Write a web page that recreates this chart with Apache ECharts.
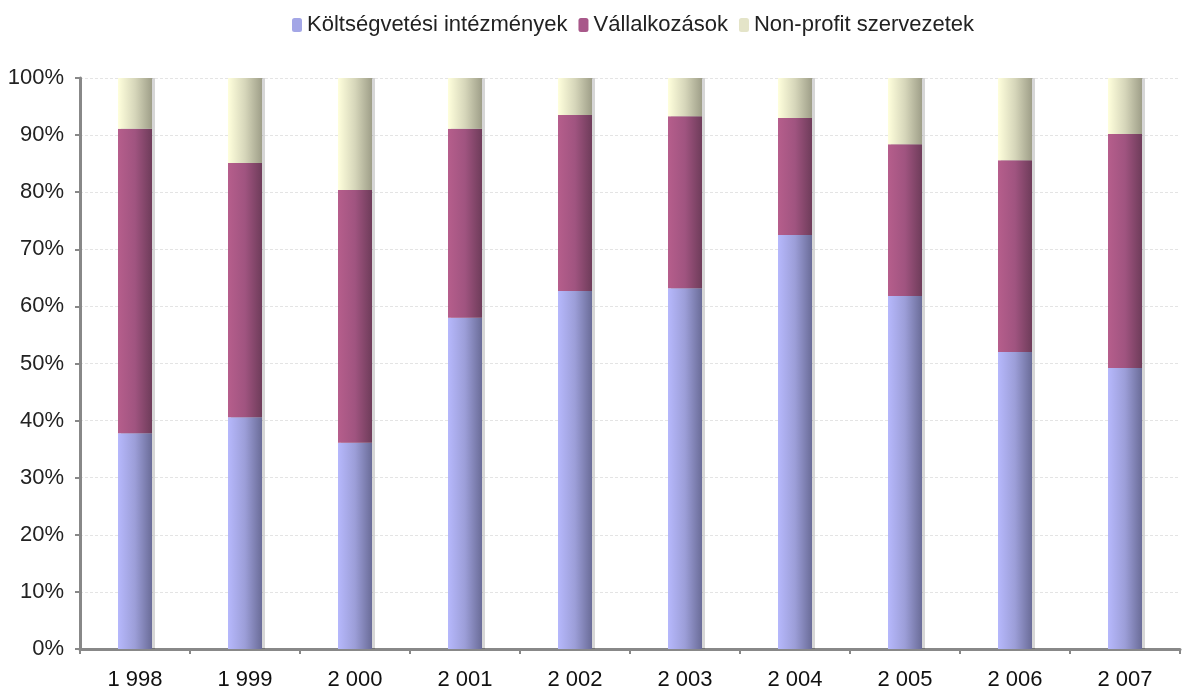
<!DOCTYPE html>
<html>
<head>
<meta charset="utf-8">
<script src="https://cdn.jsdelivr.net/npm/echarts@6/dist/echarts.min.js"></script>
<style>html,body{margin:0;padding:0;background:#fff;}#c{width:1195px;height:692px;}</style>
</head>
<body>
<div id="c"></div>
<script>
var categories = ['1 998','1 999','2 000','2 001','2 002','2 003','2 004','2 005','2 006','2 007'];
var koltsegvetesi = [37.8, 40.6, 36.1, 58.0, 62.7, 63.2, 72.5, 61.8, 52.0, 49.2];
var vallalkozasok = [53.3, 44.5, 44.3, 33.1, 30.8, 30.1, 20.5, 26.6, 33.6, 41.0];
var nonprofit = [8.9, 14.9, 19.6, 8.9, 6.5, 6.7, 7.0, 11.6, 14.4, 9.8];
var seriesNames = ['Költségvetési intézmények', 'Vállalkozások', 'Non-profit szervezetek'];

function grad(c1, c2, c3) {
  return new echarts.graphic.LinearGradient(0, 0, 1, 0, [
    {offset: 0, color: c1}, {offset: 0.5, color: c2}, {offset: 1, color: c3}
  ]);
}
var chart = echarts.init(document.getElementById('c'));
var font = '"Liberation Sans", Arial, sans-serif';
function mk(name, data, colors) {
  return {
    name: name, type: 'bar', stack: 'total', data: data, barWidth: 34,
    itemStyle: {color: grad(colors[0], colors[1], colors[2]), shadowColor: 'rgba(0,0,0,0.16)', shadowOffsetX: 3, shadowBlur: 0},
    emphasis: {disabled: true}
  };
}
chart.setOption({
  animation: false,
  legend: {
    top: 9, left: 287, itemWidth: 10, itemHeight: 14, itemGap: 11,
    textStyle: {fontFamily: font, fontSize: 22, color: '#222'},
    data: [
      {name: seriesNames[0], itemStyle: {color: '#a3a6e6'}},
      {name: seriesNames[1], itemStyle: {color: '#a8588a'}},
      {name: seriesNames[2], itemStyle: {color: '#e4e4c8'}}
    ]
  },
  grid: {left: 80, right: 15, top: 78, bottom: 43, containLabel: false},
  xAxis: {
    type: 'category', data: categories,
    axisLine: {lineStyle: {color: '#888', width: 3}},
    axisTick: {show: true, alignWithLabel: false, length: 5, lineStyle: {color: '#888', width: 2}},
    axisLabel: {fontFamily: font, fontSize: 22, color: '#111', margin: 20}
  },
  yAxis: {
    type: 'value', min: 0, max: 100, interval: 10,
    axisLine: {show: true, lineStyle: {color: '#888', width: 3}},
    axisTick: {show: true, length: 5, lineStyle: {color: '#888', width: 2}},
    axisLabel: {fontFamily: font, fontSize: 22, color: '#222', margin: 16, formatter: '{value}%'},
    splitLine: {show: true, lineStyle: {color: '#e4e4e4', type: [3, 2], width: 1}}
  },
  series: [
    mk(seriesNames[0], koltsegvetesi, ['#b6b8fc', '#9c9ed8', '#6a6c98']),
    mk(seriesNames[1], vallalkozasok, ['#b65e8c', '#a05480', '#6e3c5a']),
    mk(seriesNames[2], nonprofit, ['#ffffdc', '#d6d6ba', '#9e9e88'])
  ]
});
</script>
</body>
</html>
